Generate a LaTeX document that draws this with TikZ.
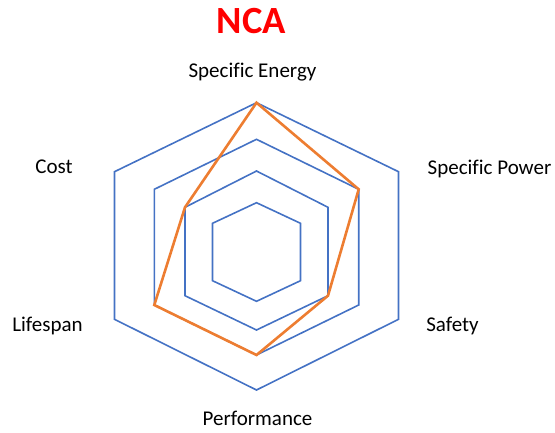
\documentclass[tikz,border=0pt]{standalone}
\usepackage{fontspec}
\setmainfont{Carlito}[Ligatures=NoCommon]
\definecolor{ringblue}{HTML}{4472C4}
\definecolor{scoreorange}{HTML}{ED7D31}
\tikzstyle{ring} = [draw=ringblue, line width=1.6pt, line join=miter]
\tikzstyle{score} = [draw=scoreorange, line width=2.6pt, line join=miter]
\tikzstyle{axis label} = [anchor=base, font=\fontsize{21}{24}\selectfont]
\tikzstyle{title} = [anchor=base, text=red, font=\bfseries\fontsize{38.5}{42}\selectfont]

\begin{document}
\begin{tikzpicture}[x=1pt, y=-1pt]
          \useasboundingbox (0,0) rectangle (555,432);

          % Place the rings
          \foreach \lv/\t/\st/\sb/\b/\w in {1/202.7/223.3/280.7/301.3/44,
              2/171/207.3/295.7/330/71.5, 3/139.3/189.3/305/355/102.2,
              4/102.7/171.7/319.3/390/142} {
            \coordinate (e\lv) at (256.5,\t);
            \coordinate (p\lv) at ({256.5+\w},\st);
            \coordinate (s\lv) at ({256.5+\w},\sb);
            \coordinate (f\lv) at (256.5,\b);
            \coordinate (l\lv) at ({256.5-\w},\sb);
            \coordinate (c\lv) at ({256.5-\w},\st);
            \draw [ring] (e\lv) -- (p\lv) -- (s\lv) -- (f\lv) -- (l\lv) -- (c\lv) -- cycle;
          }

          % Scores
          \draw [score] (e4) -- (p3) -- (s2) -- (f3) -- (l3) -- (c2) -- cycle;

          % Labels
          \node [title] (name) at (251.5,33.3) {NCA};
          \node [axis label] (energy) at (252.5,77.5) {Specific Energy};
          \node [axis label] (power) at (489.5,174) {Specific Power};
          \node [axis label] (safety) at (452.5,331.5) {Safety};
          \node [axis label] (perf) at (257.5,425) {Performance};
          \node [axis label] (life) at (47.5,331.5) {Lifespan};
          \node [axis label] (cost) at (54,173.5) {Cost};
      \end{tikzpicture}
\end{document}
